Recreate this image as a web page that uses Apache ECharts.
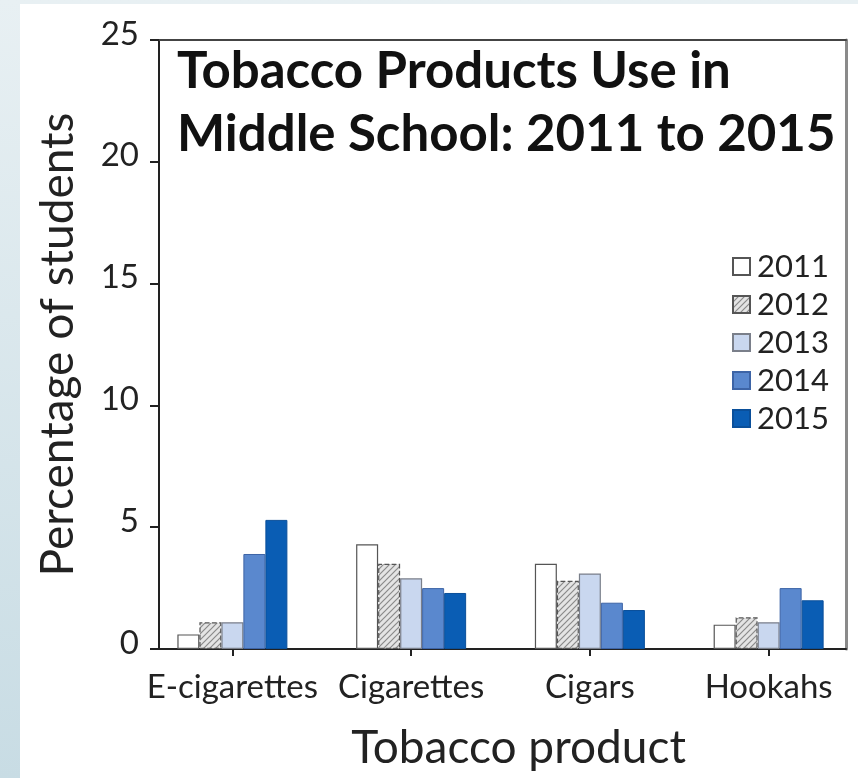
<!DOCTYPE html>
<html>
<head>
<meta charset="utf-8">
<script src="https://cdn.jsdelivr.net/npm/echarts@6/dist/echarts.min.js"></script>
<style>
html,body{margin:0;padding:0;background:#fff;}
#chart{width:858px;height:778px;}
</style>
</head>
<body>
<div id="chart"></div>
<script>
const categories = ['E-cigarettes', 'Cigarettes', 'Cigars', 'Hookahs'];
const years = ['2011', '2012', '2013', '2014', '2015'];
const values2011 = [0.6, 4.3, 3.5, 1.0];
const values2012 = [1.1, 3.5, 2.8, 1.3];
const values2013 = [1.1, 2.9, 3.1, 1.1];
const values2014 = [3.9, 2.5, 1.9, 2.5];
const values2015 = [5.3, 2.3, 1.6, 2.0];
const yTicks = [0, 5, 10, 15, 20, 25];

const seriesValues = [values2011, values2012, values2013, values2014, values2015];

// hatch pattern for 2012
const pc = document.createElement('canvas');
pc.width = 6; pc.height = 6;
const pctx = pc.getContext('2d');
pctx.fillStyle = '#e4e4e4';
pctx.fillRect(0, 0, 6, 6);
pctx.strokeStyle = '#8a8a8a';
pctx.lineWidth = 1.2;
pctx.beginPath();
pctx.moveTo(0, 6); pctx.lineTo(6, 0);
pctx.moveTo(-3, 3); pctx.lineTo(3, -3);
pctx.moveTo(3, 9); pctx.lineTo(9, 3);
pctx.stroke();

const styles = [
  { color: '#ffffff', borderColor: '#555555', borderWidth: 1.2 },
  { color: { image: pc, repeat: 'repeat' }, borderColor: '#555555', borderWidth: 1.2, borderType: 'dashed' },
  { color: '#c9d7ef', borderColor: '#7a7f8a', borderWidth: 1.2 },
  { color: '#5a88ce', borderColor: '#3d64a6', borderWidth: 1 },
  { color: '#0a5db4', borderColor: '#0a4f9a', borderWidth: 1 }
];

const chart = echarts.init(document.getElementById('chart'));
const font = 'Lato, "Noto Sans", sans-serif';

chart.setOption({
  animation: false,
  backgroundColor: '#ffffff',
  graphic: [
    { type: 'rect', z: -10, shape: { x: 0, y: 0, width: 858, height: 778 },
      style: { fill: new echarts.graphic.LinearGradient(0, 0, 0, 1, [
        { offset: 0, color: '#e8f0f3' }, { offset: 1, color: '#c8dce4' }]) } },
    { type: 'rect', z: -9, shape: { x: 20, y: 4, width: 838, height: 774 },
      style: { fill: '#ffffff' } }
  ],
  title: {
    text: 'Tobacco Products Use in\nMiddle School: 2011 to 2015',
    left: 177, top: 40, padding: 0,
    textStyle: { fontFamily: font, fontWeight: 'bold', fontSize: 51, lineHeight: 63, color: '#111' }
  },
  legend: {
    orient: 'vertical',
    left: 727, top: 246,
    icon: 'rect',
    itemWidth: 17, itemHeight: 17, itemGap: 7,
    data: years,
    textStyle: { fontFamily: font, fontSize: 31, lineHeight: 31, color: '#222', padding: [0, 0, 0, 2] }
  },
  grid: [
    { left: 143, width: 720, top: 40, height: 609, containLabel: false },
    { left: 159, width: 687, top: 40, height: 609, containLabel: false }
  ],
  xAxis: [
    { type: 'category', gridIndex: 0, data: categories,
      axisLine: { show: false },
      axisTick: { show: true, interval: 0, alignWithLabel: true, length: 7, lineStyle: { color: '#222', width: 2 } },
      axisLabel: { interval: 0, fontFamily: font, fontSize: 33, color: '#222', margin: 22 },
      name: 'Tobacco product', nameLocation: 'middle', nameGap: 76,
      nameTextStyle: { fontFamily: font, fontSize: 46, color: '#222', padding: [0, 0, 0, 36] }
    },
    { type: 'value', gridIndex: 1, position: 'bottom', min: 0, max: 1,
      axisLine: { show: true, onZero: false, lineStyle: { color: '#222', width: 2 } },
      axisTick: { show: false }, axisLabel: { show: false }, splitLine: { show: false } },
    { type: 'value', gridIndex: 1, position: 'top', min: 0, max: 1,
      axisLine: { show: true, onZero: false, lineStyle: { color: '#444', width: 2 } },
      axisTick: { show: false }, axisLabel: { show: false }, splitLine: { show: false } }
  ],
  yAxis: [
    { type: 'value', gridIndex: 0, min: 0, max: 25, interval: 5, show: false },
    { type: 'value', gridIndex: 1, min: yTicks[0], max: yTicks[yTicks.length - 1], interval: 5, position: 'left',
      axisLine: { show: true, onZero: false, lineStyle: { color: '#222', width: 2 } },
      axisTick: { show: true, length: 9, lineStyle: { color: '#222', width: 2 } },
      axisLabel: { fontFamily: font, fontSize: 33, color: '#222', margin: 20, lineHeight: 12, verticalAlign: 'bottom' },
      splitLine: { show: false },
      name: 'Percentage of students', nameLocation: 'middle', nameGap: 78,
      nameTextStyle: { fontFamily: font, fontSize: 46, color: '#222' } },
    { type: 'value', gridIndex: 1, min: 0, max: 25, position: 'right',
      axisLine: { show: true, onZero: false, lineStyle: { color: '#8a8a8a', width: 3 } },
      axisTick: { show: false }, axisLabel: { show: false }, splitLine: { show: false } }
  ],
  series: years.map((y, i) => ({
    name: y,
    type: 'bar',
    xAxisIndex: 0, yAxisIndex: 0,
    data: seriesValues[i],
    barWidth: 22,
    barGap: '0%',
    itemStyle: styles[i],
    z: 3
  }))
});
</script>
</body>
</html>
